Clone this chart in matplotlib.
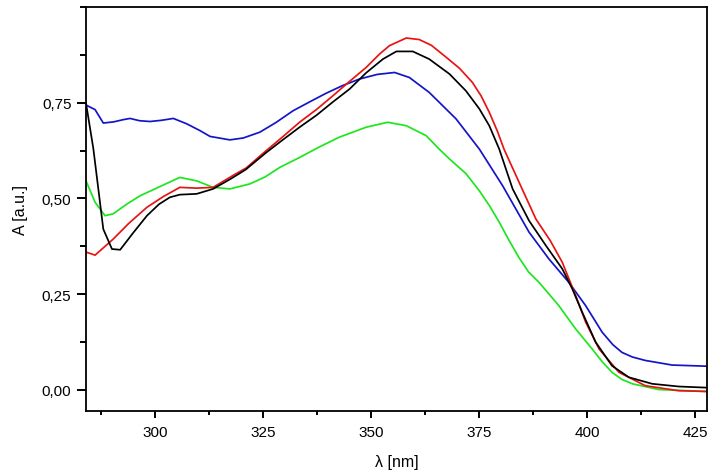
import matplotlib
matplotlib.use("Agg")
import matplotlib.pyplot as plt
from matplotlib.ticker import MultipleLocator, FuncFormatter

plt.rcParams['font.family'] = ['Liberation Sans', 'DejaVu Sans']

black_x = [284.1, 285.8, 288.1, 290.1, 292.0, 295.0, 298.2, 301.0, 303.5, 305.8, 309.7, 313.5, 317.4, 321.0,
           325.8, 329.5, 333.5, 337.5, 341.1, 345.1, 348.9, 352.8, 355.9, 359.7, 363.5, 368.2, 372.0,
           375.1, 377.4, 379.7, 382.8, 386.6, 390.5, 394.3, 396.6, 398.9, 402.0, 405.8, 409.7,
           415.1, 421.2, 427.7]
black_y = [0.749, 0.63, 0.42, 0.368, 0.366, 0.41, 0.455, 0.485, 0.503, 0.51, 0.512, 0.525, 0.55, 0.575,
           0.62, 0.652, 0.686, 0.718, 0.751, 0.786, 0.828, 0.864, 0.884, 0.884, 0.864, 0.825, 0.781,
           0.734, 0.69, 0.629, 0.525, 0.442, 0.377, 0.316, 0.264, 0.203, 0.125, 0.063, 0.033,
           0.016, 0.009, 0.006]

red_x = [284.1, 286.2, 290.4, 294.0, 298.2, 302.0, 305.8, 309.7, 313.5, 318.1, 321.2, 325.8, 329.5,
         333.5, 337.5, 341.2, 345.0, 348.9, 352.0, 354.3, 358.2, 361.2, 364.0, 367.4, 370.5, 373.5,
         375.5, 377.4, 379.3, 380.8, 384.3, 388.2, 391.5, 394.3, 397.4, 399.7, 402.8, 407.4, 413.5,
         421.2, 427.7]
red_y = [0.36, 0.352, 0.394, 0.435, 0.477, 0.505, 0.529, 0.527, 0.529, 0.56, 0.58, 0.625, 0.66,
         0.699, 0.733, 0.768, 0.805, 0.842, 0.877, 0.899, 0.919, 0.915, 0.9, 0.869, 0.84, 0.803,
         0.768, 0.725, 0.675, 0.629, 0.542, 0.446, 0.39, 0.333, 0.246, 0.177, 0.107, 0.046, 0.011,
         -0.002, -0.004]

blue_x = [284.1, 286.2, 288.1, 290.5, 292.8, 294.3, 296.5, 298.9, 301.5, 304.3, 307.4, 310.5, 312.8,
          317.4, 320.5, 324.3, 328.0, 332.0, 335.8, 339.7, 343.5, 347.4, 351.5, 355.5, 358.9,
          363.5, 369.7, 375.1, 380.5, 386.6, 391.2, 395.8, 399.7, 403.5, 406.0, 408.1, 410.5,
          413.5, 419.7, 427.7]
blue_y = [0.744, 0.732, 0.697, 0.7, 0.706, 0.709, 0.703, 0.701, 0.704, 0.709, 0.695, 0.677, 0.662,
          0.653, 0.658, 0.673, 0.698, 0.729, 0.752, 0.775, 0.795, 0.812, 0.824, 0.829, 0.816,
          0.777, 0.708, 0.629, 0.533, 0.412, 0.342, 0.281, 0.22, 0.151, 0.118, 0.098, 0.086,
          0.077, 0.065, 0.062]

green_x = [284.1, 286.2, 288.5, 290.4, 293.5, 296.6, 301.0, 305.8, 309.7, 313.5, 317.4, 322.0, 325.5,
           328.9, 333.5, 338.0, 342.7, 348.9, 353.9, 358.2, 362.8, 365.8, 368.2, 372.0, 375.1,
           377.5, 379.7, 382.0, 384.3, 386.5, 388.9, 393.5, 397.4, 401.2, 403.5, 405.8, 408.0,
           410.5, 416.6, 427.7]
green_y = [0.546, 0.49, 0.455, 0.46, 0.485, 0.507, 0.53, 0.555, 0.546, 0.529, 0.525, 0.538, 0.556,
           0.581, 0.607, 0.634, 0.66, 0.686, 0.699, 0.69, 0.664, 0.629, 0.603, 0.565, 0.52,
           0.48, 0.438, 0.39, 0.345, 0.308, 0.281, 0.22, 0.159, 0.107, 0.074, 0.046, 0.028,
           0.016, 0.001, -0.004]

x_ticks = [300, 325, 350, 375, 400, 425]
y_ticks = [0.0, 0.25, 0.5, 0.75]

fig = plt.figure(figsize=(7.15, 4.77), dpi=100)
ax = fig.add_axes([86 / 715, 1 - 412 / 477, (706.7 - 86) / 715, (412 - 8) / 477])

lw = 1.25
ax.plot(blue_x, blue_y, color='#1414c8', lw=lw)
ax.plot(green_x, green_y, color='#1ee61e', lw=lw)
ax.plot(red_x, red_y, color='#e81414', lw=lw)
ax.plot(black_x, black_y, color='black', lw=lw)

ax.set_xlim(284.1, 427.7)
ax.set_ylim(-0.055, 1.0)
ax.set_xticks(x_ticks)
ax.set_yticks(y_ticks)
ax.xaxis.set_minor_locator(MultipleLocator(12.5))
ax.yaxis.set_minor_locator(MultipleLocator(0.125))
ax.yaxis.set_major_formatter(FuncFormatter(lambda v, p: f"{v:.2f}".replace('.', ',')))

for s in ax.spines.values():
    s.set_linewidth(1.3)

ax.tick_params(axis='y', which='major', direction='out', length=6.5, width=1.4, labelsize=11, pad=4)
ax.tick_params(axis='y', which='minor', direction='out', length=4, width=1.4)
ax.tick_params(axis='x', which='major', direction='out', length=5, width=1.4, labelsize=11, pad=5)
ax.tick_params(axis='x', which='minor', direction='out', length=3, width=1.4)

ax.set_xlabel('λ [nm]', fontsize=11.5, labelpad=11)
ax.set_ylabel('A [a.u.]', fontsize=11.5, labelpad=10)

fig.savefig('out.png', dpi=100)
